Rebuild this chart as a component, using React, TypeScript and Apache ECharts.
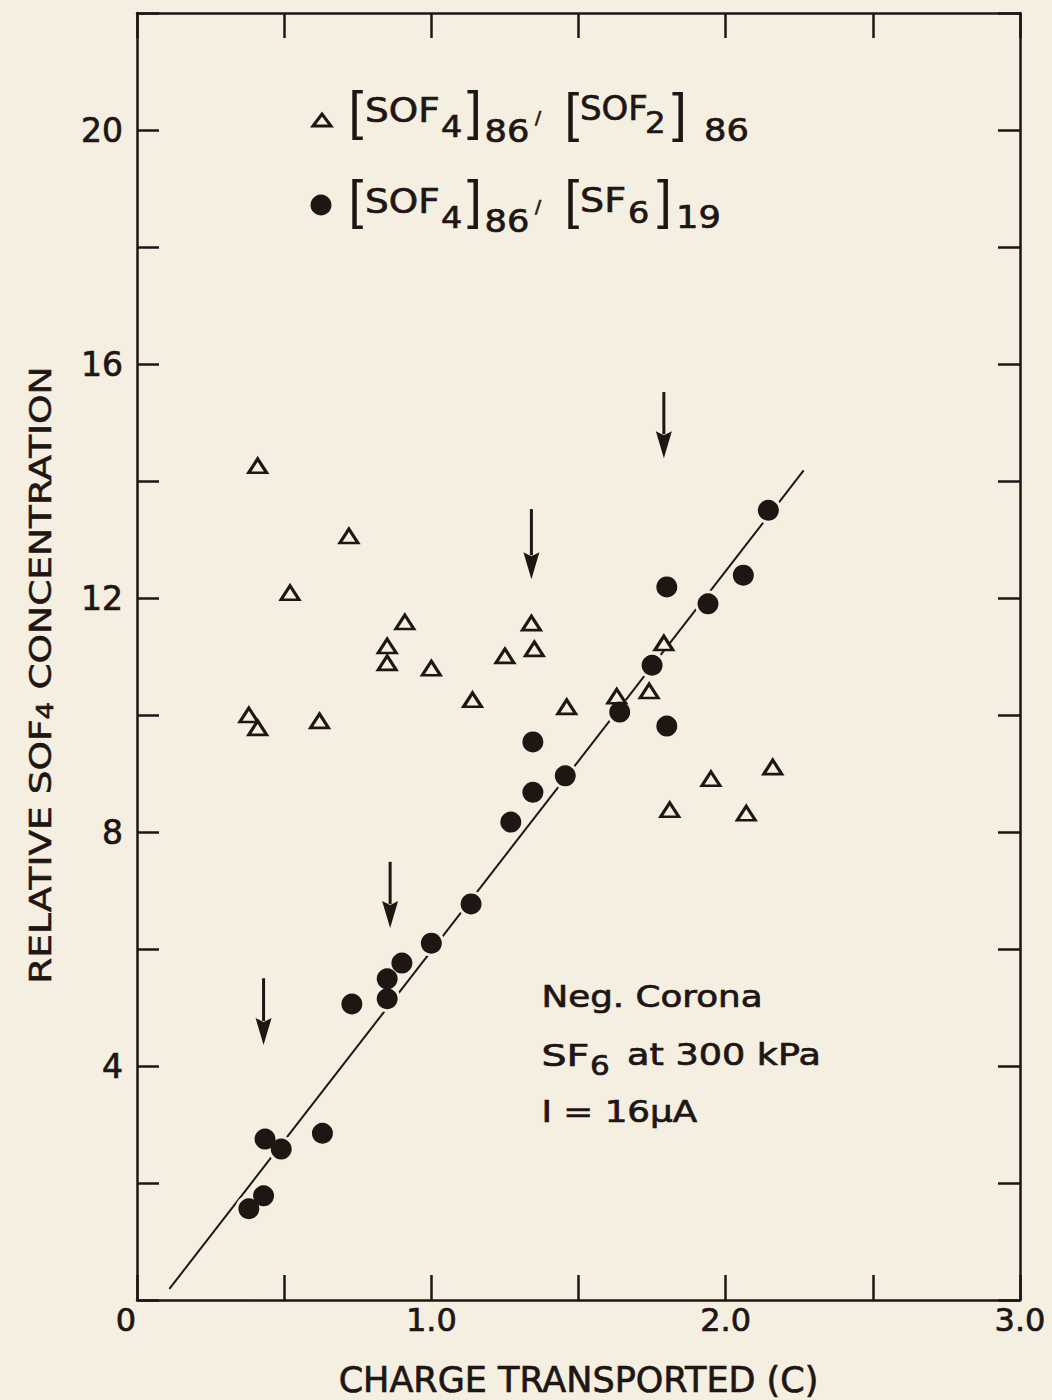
import React, { useEffect, useRef } from "react";
import * as echarts from "echarts";

// ---- data ----
const TRI_X = [0.41, 0.72, 0.52, 0.91, 0.85, 0.85, 1.0, 1.14, 1.34, 1.35, 1.25, 0.38, 0.41, 0.62, 1.46, 1.63, 1.74, 1.79, 1.81, 1.95, 2.07, 2.16];
const TRI_Y = [14.26, 13.06, 12.09, 11.59, 11.18, 10.89, 10.8, 10.26, 11.57, 11.13, 11.01, 10.0, 9.78, 9.9, 10.14, 10.32, 10.41, 11.23, 8.38, 8.91, 8.32, 9.11];

const CIRC_X = [0.38, 0.43, 0.435, 0.49, 0.63, 0.73, 0.85, 0.85, 0.9, 1.0, 1.135, 1.27, 1.345, 1.345, 1.455, 1.64, 1.75, 1.8, 1.8, 1.94, 2.06, 2.145];
const CIRC_Y = [1.56, 1.78, 2.75, 2.58, 2.85, 5.06, 5.49, 5.15, 5.76, 6.1, 6.77, 8.17, 8.68, 9.54, 8.96, 10.05, 10.85, 12.19, 9.81, 11.9, 12.39, 13.5];

const FIT_X = [0.11, 2.265];
const FIT_Y = [0.19, 14.18];

const ARROW_X = [0.43, 0.86, 1.34, 1.79];
const ARROW_TOP = [5.5, 7.49, 13.52, 15.52];
const ARROW_TIP = [4.36, 6.36, 12.32, 14.39];

const X_MIN = 0, X_MAX = 3, X_STEP = 0.5;
const Y_MIN = 0, Y_MAX = 22, Y_STEP = 2, Y_LABEL_STEP = 4;

const X_TITLE = "CHARGE TRANSPORTED (C)";

// ---- styles ----
const BG = "#f4efe1";
const INK = "#1f1614";
const SANS = "'DejaVu Sans', Verdana, sans-serif";
const BR = "'Liberation Sans', Arial, sans-serif";
const THICK = 0.7;

const zip = (xs: number[], ys: number[]) => xs.map((x, i) => [x, ys[i]]);

const txt = (text: string, x: number, y: number, fontSize: number, family = SANS, extra: any = {}, bold = true) => ({
  type: "text",
  x,
  y,
  silent: true,
  z: 10,
  ...extra,
  style: {
    text,
    fill: INK,
    fontSize,
    fontFamily: family,
    align: "left",
    verticalAlign: "middle",
    textAlign: "left",
    textVerticalAlign: "middle",
    stroke: bold ? INK : undefined,
    lineWidth: bold ? THICK : 0,
  },
});

function buildGraphics() {
  const els: any[] = [];
  // legend row 1
  els.push({
    type: "polygon",
    silent: true,
    z: 10,
    shape: { points: [[313, 126], [322, 114], [331, 126]] },
    style: { fill: BG, stroke: INK, lineWidth: 3, lineJoin: "miter" },
  });
  els.push(txt("[", 348.5, 110.5, 53, BR, {}, false));
  els.push(txt("SOF", 365, 110, 34, SANS, { scaleX: 1.1 }));
  els.push(txt("4", 441, 126.5, 31, SANS, { scaleX: 1.08 }));
  els.push(txt("]", 467, 110.5, 53, BR, {}, false));
  els.push(txt("86", 484.5, 131, 32, SANS, { scaleX: 1.1 }));
  els.push(txt("/", 535, 117.5, 18));
  els.push(txt("[", 564.5, 112.5, 53, BR, {}, false));
  els.push(txt("SOF", 580, 107.5, 34));
  els.push(txt("2", 645, 122, 31, SANS, { scaleX: 1.05 }));
  els.push(txt("]", 672, 112.5, 53, BR, {}, false));
  els.push(txt("86", 704, 130, 32, SANS, { scaleX: 1.1 }));
  // legend row 2
  els.push({
    type: "circle",
    silent: true,
    z: 10,
    shape: { cx: 321, cy: 205, r: 10.5 },
    style: { fill: INK },
  });
  els.push(txt("[", 348.5, 199.5, 53, BR, {}, false));
  els.push(txt("SOF", 365, 201, 34, SANS, { scaleX: 1.1 }));
  els.push(txt("4", 441, 217.5, 31, SANS, { scaleX: 1.08 }));
  els.push(txt("]", 467, 199.5, 53, BR, {}, false));
  els.push(txt("86", 484.5, 221, 32, SANS, { scaleX: 1.1 }));
  els.push(txt("/", 535, 206, 18));
  els.push(txt("[", 564.5, 199, 53, BR, {}, false));
  els.push(txt("SF", 580, 201, 34, SANS, { scaleX: 1.12 }));
  els.push(txt("6", 628, 212, 31, SANS, { scaleX: 1.08 }));
  els.push(txt("]", 657, 199, 53, BR, {}, false));
  els.push(txt("19", 676, 217.5, 32, SANS, { scaleX: 1.1 }));

  // annotation
  els.push(txt("Neg. Corona", 541.5, 997, 30, SANS, { scaleX: 1.19 }));
  els.push(txt("SF", 541.5, 1055, 30, SANS, { scaleX: 1.32 }));
  els.push(txt("6", 590, 1066, 27, SANS, { scaleX: 1.15 }));
  els.push(txt("at 300 kPa", 627, 1055, 30, SANS, { scaleX: 1.22 }));
  els.push(txt("I = 16\u00b5A", 541.5, 1112, 30, SANS, { scaleX: 1.19 }));

  // y axis title (rotated, with subscript)
  els.push({
    type: "text",
    x: 40,
    y: 675,
    rotation: Math.PI / 2,
    scaleY: 0.8,
    silent: true,
    z: 10,
    style: {
      text: "RELATIVE SOF{s|4} CONCENTRATION",
      fill: INK,
      fontSize: 37.5,
      fontFamily: SANS,
      align: "center",
      verticalAlign: "middle",
      textAlign: "center",
      textVerticalAlign: "middle",
      stroke: INK,
      lineWidth: THICK,
      rich: {
        s: { fontSize: 28, fontFamily: SANS, fill: INK, color: INK, stroke: INK, lineWidth: THICK, padding: [13, 0, 0, 0] },
      },
    },
  });
  return els;
}

export default function App() {
  const ref = useRef<HTMLDivElement>(null);

  useEffect(() => {
    if (!ref.current) return;
    const chart = echarts.init(ref.current, undefined, { renderer: "svg" });

    const axisLine = { show: true, onZero: false, lineStyle: { color: INK, width: 2.5 } };
    const isInt = (v: number) => Math.abs(v - Math.round(v)) < 1e-9;

    const option: any = {
      animation: false,
      backgroundColor: BG,
      grid: { left: 137, right: 32, top: 13, bottom: 100, containLabel: false, outerBoundsMode: "none" },
      xAxis: [
        {
          type: "value",
          min: X_MIN,
          max: X_MAX,
          interval: X_STEP,
          position: "bottom",
          name: X_TITLE,
          nameLocation: "middle",
          nameGap: 62,
          nameTextStyle: { fontFamily: SANS, fontSize: 35, color: INK, textBorderColor: INK, textBorderWidth: THICK },
          axisLine,
          axisTick: { show: true, inside: true, length: 25, lineStyle: { color: INK, width: 2.5 } },
          axisLabel: {
            show: true,
            margin: 4,
            fontFamily: SANS,
            fontSize: 32,
            color: INK,
            textBorderColor: INK,
            textBorderWidth: THICK,
            formatter: (v: number) => (v === 0 ? "{z|0}" : isInt(v) ? v.toFixed(1) : ""),
            rich: {
              z: { fontFamily: SANS, fontSize: 32, color: INK, textBorderColor: INK, textBorderWidth: THICK, padding: [0, 22, 0, 0] },
            },
          },
          splitLine: { show: false },
        },
        {
          type: "value",
          min: X_MIN,
          max: X_MAX,
          interval: X_STEP,
          position: "top",
          axisLine,
          axisTick: { show: true, inside: true, length: 25, lineStyle: { color: INK, width: 2.5 } },
          axisLabel: { show: false },
          splitLine: { show: false },
        },
      ],
      yAxis: [
        {
          type: "value",
          min: Y_MIN,
          max: Y_MAX,
          interval: Y_STEP,
          position: "left",
          axisLine,
          axisTick: { show: true, inside: true, length: 22, lineStyle: { color: INK, width: 2.5 } },
          axisLabel: {
            show: true,
            margin: 14,
            fontFamily: SANS,
            fontSize: 33,
            color: INK,
            textBorderColor: INK,
            textBorderWidth: THICK,
            formatter: (v: number) => (v > 0 && v % Y_LABEL_STEP === 0 ? String(v) : ""),
          },
          splitLine: { show: false },
        },
        {
          type: "value",
          min: Y_MIN,
          max: Y_MAX,
          interval: Y_STEP,
          position: "right",
          axisLine,
          axisTick: { show: true, inside: true, length: 22, lineStyle: { color: INK, width: 2.5 } },
          axisLabel: { show: false },
          splitLine: { show: false },
        },
      ],
      series: [
        {
          name: "fit",
          type: "line",
          data: zip(FIT_X, FIT_Y),
          symbol: "none",
          lineStyle: { color: INK, width: 2 },
          z: 2,
          silent: true,
        },
        {
          name: "halo",
          type: "scatter",
          data: zip(CIRC_X, CIRC_Y),
          symbol: "circle",
          symbolSize: 27,
          itemStyle: { color: BG, opacity: 1 },
          z: 3,
          silent: true,
        },
        {
          name: "[SOF4]86/[SOF2]86",
          type: "scatter",
          data: zip(TRI_X, TRI_Y),
          symbol: "triangle",
          symbolSize: [18, 14],
          itemStyle: { color: BG, borderColor: INK, borderWidth: 3, opacity: 1 },
          z: 4,
          silent: true,
        },
        {
          name: "[SOF4]86/[SF6]19",
          type: "scatter",
          data: zip(CIRC_X, CIRC_Y),
          symbol: "circle",
          symbolSize: 21,
          itemStyle: { color: INK, opacity: 1 },
          z: 5,
          silent: true,
        },
        {
          name: "arrows",
          type: "custom",
          data: ARROW_X.map((x, i) => [x, ARROW_TOP[i], ARROW_TIP[i]]),
          encode: { x: 0, y: 1 },
          z: 6,
          silent: true,
          renderItem: (_params: any, api: any) => {
            const top = api.coord([api.value(0), api.value(1)]);
            const tip = api.coord([api.value(0), api.value(2)]);
            const headLen = 27;
            const headW = 16;
            return {
              type: "group",
              children: [
                {
                  type: "line",
                  shape: { x1: top[0], y1: top[1], x2: tip[0], y2: tip[1] - headLen + 3 },
                  style: { stroke: INK, lineWidth: 3 },
                },
                {
                  type: "polygon",
                  shape: {
                    points: [
                      [tip[0] - headW / 2, tip[1] - headLen],
                      [tip[0], tip[1] - headLen + 4],
                      [tip[0] + headW / 2, tip[1] - headLen],
                      [tip[0], tip[1]],
                    ],
                  },
                  style: { fill: INK },
                },
              ],
            };
          },
        },
      ],
      graphic: { elements: buildGraphics() },
    };

    chart.setOption(option);
    return () => chart.dispose();
  }, []);

  return (
    <div
      ref={ref}
      style={{ position: "absolute", left: 0, top: 0, width: 1052, height: 1400, background: BG }}
    />
  );
}
